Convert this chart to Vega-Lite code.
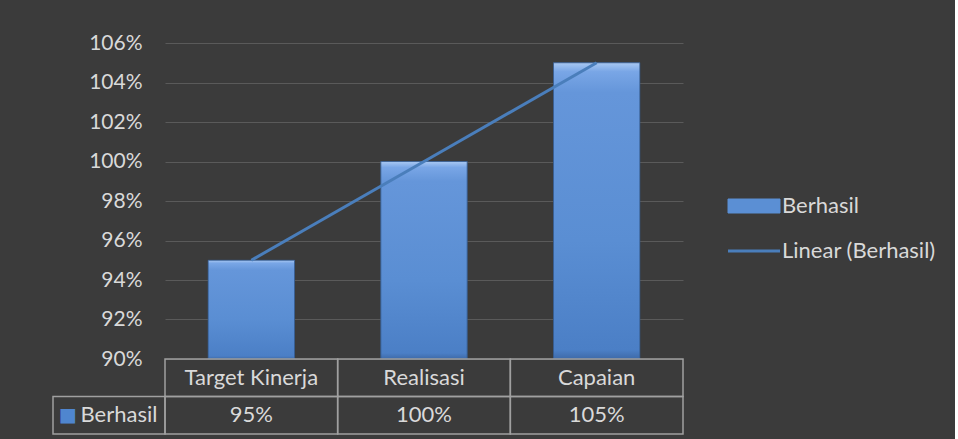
{
  "$schema": "https://vega.github.io/schema/vega-lite/v6.json",
  "background": "#3b3b3b",
  "padding": {"left": 52, "top": 32, "right": 19, "bottom": 7},
  "columns": 2,
  "spacing": 0,
  "bounds": "flush",
  "config": {
    "view": {"stroke": null},
    "font": "Lato",
    "axis": {"labelFont": "Lato", "labelFontSize": 21, "labelColor": "#d9d9d9"},
    "legend": {"labelFont": "Lato", "labelFontSize": 22, "labelColor": "#d9d9d9"}
  },
  "datasets": {
    "d": [
      {"kategori": "Target Kinerja", "nilai": 0.95},
      {"kategori": "Realisasi", "nilai": 1.0},
      {"kategori": "Capaian", "nilai": 1.05}
    ]
  },
  "resolve": {"scale": {"x": "independent", "y": "independent"}},
  "concat": [
    {
      "width": 112,
      "height": 316,
      "data": {"values": [{"k": 1}]},
      "mark": {"type": "point", "opacity": 0},
      "encoding": {}
    },
    {
      "width": 518,
      "height": 316,
      "data": {"name": "d"},
      "encoding": {
        "x": {"field": "kategori", "type": "nominal", "sort": null, "scale": {"paddingInner": 0, "paddingOuter": 0}, "axis": null},
        "y": {
          "field": "nilai", "type": "quantitative",
          "scale": {"domain": [0.9, 1.06], "zero": false, "nice": false},
          "axis": {"title": null, "values": [0.9, 0.92, 0.94, 0.96, 0.98, 1.0, 1.02, 1.04, 1.06], "format": ".0%", "labelOverlap": false, "domain": false, "ticks": false, "labelPadding": 23, "gridColor": "#5a5a5a", "gridWidth": 1.2}
        }
      },
      "layer": [
        {
          "mark": {"type": "bar", "width": {"band": 0.5}},
          "encoding": {
            "y2": {"datum": 0.9},
            "color": {
              "datum": "Berhasil", "type": "nominal",
              "scale": {"domain": ["Berhasil", "Linear (Berhasil)"], "range": ["#5b8fd4", "#4a7ebb"]},
              "legend": {
                "title": null, "orient": "none", "legendX": 690, "legendY": 152,
                "symbolSize": 1600, "labelOffset": 17, "rowPadding": 23,
                "encode": {
                  "symbols": {
                    "update": {
                      "shape": {"signal": "datum.value === 'Berhasil' ? 'M-1.3,-0.35H1.3V0.35H-1.3Z' : 'M-1.3,0H1.3'"},
                      "strokeWidth": {"signal": "datum.value === 'Berhasil' ? 1 : 3"},
                      "stroke": {"signal": "datum.value === 'Berhasil' ? '#3a64a0' : '#4a7ebb'"},
                      "fill": {"signal": "datum.value === 'Berhasil' ? '#6a9ade' : 'transparent'"},
                      "opacity": {"value": 1}
                    }
                  }
                }
              }
            }
          }
        },
        {
          "mark": {
            "type": "bar", "width": {"band": 0.5}, "stroke": "#34588a", "strokeWidth": 0.8,
            "fill": {
              "gradient": "linear", "x1": 0, "y1": 0, "x2": 0, "y2": 1,
              "stops": [
                {"offset": 0, "color": "#a9c8f2"},
                {"offset": 0.03, "color": "#79a6e6"},
                {"offset": 0.1, "color": "#6596da"},
                {"offset": 0.6, "color": "#5a8ed3"},
                {"offset": 0.97, "color": "#4b7fc6"},
                {"offset": 1, "color": "#3e6aa8"}
              ]
            }
          },
          "encoding": {"y2": {"datum": 0.9}}
        },
        {
          "mark": {"type": "line", "strokeWidth": 3},
          "encoding": {
            "color": {"datum": "Linear (Berhasil)", "type": "nominal"}
          }
        }
      ]
    },
    {
      "width": 112,
      "height": 75,
      "data": {"values": [{"seri": "Berhasil"}]},
      "encoding": {
        "y": {"datum": "v", "type": "nominal", "scale": {"domain": ["h", "v"], "paddingInner": 0, "paddingOuter": 0}, "axis": null}
      },
      "layer": [
        {"mark": {"type": "rect", "fill": "transparent", "stroke": "#a0a0a0", "strokeWidth": 1.5}},
        {"mark": {"type": "text", "dx": 10, "font": "Lato", "fontSize": 22, "color": "#d9d9d9"}, "encoding": {"text": {"field": "seri"}}},
        {"mark": {"type": "text", "text": "■", "dx": -41, "font": "DejaVu Sans", "fontSize": 19, "color": "#4f86cf"}}
      ]
    },
    {
      "width": 518,
      "height": 75,
      "data": {"name": "d"},
      "encoding": {
        "x": {"field": "kategori", "type": "nominal", "sort": null, "scale": {"paddingInner": 0, "paddingOuter": 0}, "axis": null}
      },
      "layer": [
        {
          "mark": {"type": "rect", "fill": "transparent", "stroke": "#a0a0a0", "strokeWidth": 1.5},
          "encoding": {"y": {"datum": "h", "type": "nominal", "scale": {"domain": ["h", "v"], "paddingInner": 0, "paddingOuter": 0}, "axis": null}}
        },
        {
          "mark": {"type": "rect", "fill": "transparent", "stroke": "#a0a0a0", "strokeWidth": 1.5},
          "encoding": {"y": {"datum": "v", "type": "nominal"}}
        },
        {
          "mark": {"type": "text", "font": "Lato", "fontSize": 22, "color": "#d9d9d9"},
          "encoding": {"y": {"datum": "h", "type": "nominal"}, "text": {"field": "kategori"}}
        },
        {
          "mark": {"type": "text", "font": "Lato", "fontSize": 22, "color": "#d9d9d9"},
          "encoding": {"y": {"datum": "v", "type": "nominal"}, "text": {"field": "nilai", "type": "quantitative", "format": ".0%"}}
        }
      ]
    }
  ]
}
